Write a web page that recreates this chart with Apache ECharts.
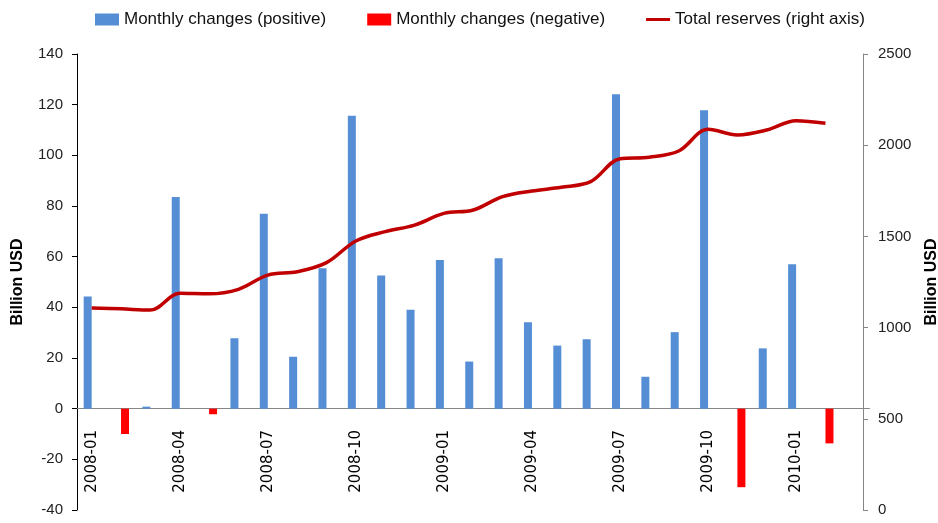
<!DOCTYPE html>
<html>
<head>
<meta charset="utf-8">
<script src="https://cdn.jsdelivr.net/npm/echarts@6/dist/echarts.min.js"></script>
<style>
  html, body { margin: 0; padding: 0; background: #fff; }
  #reserves { width: 938px; height: 523px; }
</style>
</head>
<body>
<div id="reserves"></div>
<script>
// months on the category axis (last one is left empty, as in the original)
var months = ['2008-01', '2008-02', '2008-03', '2008-04', '2008-05', '2008-06',
    '2008-07', '2008-08', '2008-09', '2008-10', '2008-11', '2008-12',
    '2009-01', '2009-02', '2009-03', '2009-04', '2009-05', '2009-06',
    '2009-07', '2009-08', '2009-09', '2009-10', '2009-11', '2009-12',
    '2010-01', '2010-02', '2010-03'];

// monthly change, billion USD
var monthlyChanges = [44.3, -10.0, 0.8, 83.6, -2.2, 27.8,
    76.9, 20.5, 55.4, 115.6, 52.6, 39.0,
    58.7, 18.6, 59.4, 34.1, 24.9, 27.4,
    124.1, 12.6, 30.2, 117.8, -31.0, 23.8,
    57.0, -13.7, null];

// total reserves, billion USD (right axis)
var totalReserves = [1108, 1103, 1096, 1188, 1185, 1210,
    1288, 1306, 1356, 1475, 1526, 1562,
    1626, 1645, 1718, 1749, 1769, 1800,
    1926, 1934, 1968, 2087, 2056, 2083,
    2134, 2120, null];

var leftTicks = { min: -40, max: 140, step: 20 };
var rightTicks = { min: 0, max: 2500, step: 500 };

var positive = monthlyChanges.map(function (v) { return v != null && v >= 0 ? v : null; });
var negative = monthlyChanges.map(function (v) { return v != null && v < 0 ? v : null; });

function drawReserves() {
    var labelFont = 'Liberation Sans, Arial, sans-serif';
    // thin line icon for the legend (zero-area end pieces keep the box 24x12)
    var lineIcon = 'path://M0,0L24,0L24,0Z M0,4.5L24,4.5L24,7.5L0,7.5Z M0,12L24,12L24,12Z';

    var option = {
        backgroundColor: '#fff',
        animation: false,
        legend: {
            left: 90,
            top: 6,
            itemWidth: 24,
            itemHeight: 12,
            itemGap: 41,
            textStyle: {
                fontFamily: labelFont,
                fontSize: 17,
                color: '#111'
            },
            data: [
                { name: 'Monthly changes (positive)', icon: 'rect' },
                { name: 'Monthly changes (negative)', icon: 'rect' },
                { name: 'Total reserves (right axis)', icon: lineIcon }
            ]
        },
        grid: {
            left: 77,
            right: 68.5,
            top: 54,
            bottom: 13,
            containLabel: false,
            outerBoundsMode: 'none'
        },
        xAxis: {
            type: 'category',
            data: months,
            boundaryGap: true,
            axisLine: {
                onZero: true,
                onZeroAxisIndex: 0,
                lineStyle: { color: '#868686', width: 1 }
            },
            axisTick: {
                interval: 0,
                length: 7,
                lineStyle: { color: '#868686' }
            },
            axisLabel: {
                interval: 2,
                rotate: 90,
                // labels sit just under the zero line, not at the bottom of the grid
                margin: -80,
                fontFamily: 'DejaVu Sans, Verdana, sans-serif',
                fontSize: 15,
                color: '#000'
            },
            splitLine: { show: false }
        },
        yAxis: [{
            type: 'value',
            min: leftTicks.min,
            max: leftTicks.max,
            interval: leftTicks.step,
            name: 'Billion USD',
            nameLocation: 'middle',
            nameGap: 51,
            nameTextStyle: {
                fontFamily: labelFont,
                fontSize: 16,
                fontWeight: 'bold',
                color: '#000'
            },
            axisLine: { show: true, lineStyle: { color: '#000' } },
            axisTick: { show: true, length: 5, lineStyle: { color: '#000' } },
            axisLabel: {
                margin: 14,
                fontFamily: labelFont,
                fontSize: 15,
                color: '#222'
            },
            splitLine: { show: false }
        }, {
            type: 'value',
            position: 'right',
            offset: -6.5,
            min: rightTicks.min,
            max: rightTicks.max,
            interval: rightTicks.step,
            name: 'Billion USD',
            nameLocation: 'middle',
            nameGap: 61,
            nameTextStyle: {
                fontFamily: labelFont,
                fontSize: 16,
                fontWeight: 'bold',
                color: '#000'
            },
            axisLine: { show: true, lineStyle: { color: '#868686' } },
            axisTick: { show: true, length: 5, lineStyle: { color: '#868686' } },
            axisLabel: {
                margin: 15,
                fontFamily: labelFont,
                fontSize: 15,
                color: '#222',
                formatter: function (v) { return String(v); }
            },
            splitLine: { show: false }
        }],
        series: [{
            name: 'Monthly changes (positive)',
            type: 'bar',
            yAxisIndex: 0,
            barWidth: 8,
            barGap: '0%',
            itemStyle: { color: '#558ED5' },
            data: positive
        }, {
            name: 'Monthly changes (negative)',
            type: 'bar',
            yAxisIndex: 0,
            barWidth: 8,
            barGap: '0%',
            itemStyle: { color: '#FF0000' },
            data: negative
        }, {
            name: 'Total reserves (right axis)',
            type: 'line',
            yAxisIndex: 1,
            smooth: 0.35,
            symbol: 'none',
            showSymbol: false,
            lineStyle: { color: '#C00000', width: 3.5 },
            itemStyle: { color: '#C00000' },
            data: totalReserves
        }]
    };

    var chart = echarts.init(document.getElementById('reserves'));
    chart.setOption(option);
}

drawReserves();
</script>
</body>
</html>
